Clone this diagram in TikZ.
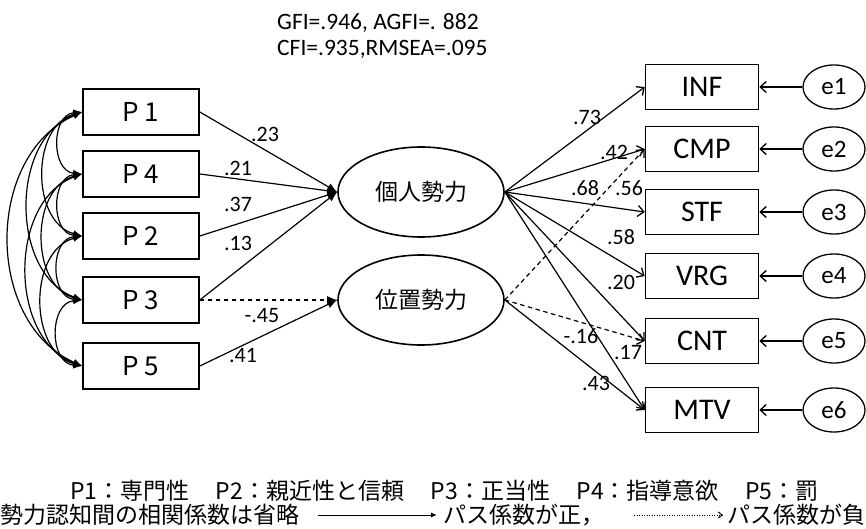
\documentclass[tikz,border=0pt]{standalone}
\usepackage{fontspec}
\setmainfont{Carlito}
\newfontfamily\jpfont{Noto Sans CJK JP}
\usetikzlibrary{arrows.meta,shapes.geometric}

\newcommand{\gapjp}{\hspace{1.15em}}

\begin{document}
\begin{tikzpicture}[x=1pt,y=-1pt,
  obsbox/.style={draw, line width=1.6pt, minimum width=116pt, minimum height=46pt,
    inner sep=0pt, font=\jpfont\fontsize{26}{26}\selectfont},
  indbox/.style={draw, line width=1.6pt, minimum width=113pt, minimum height=45pt,
    inner sep=0pt, font=\fontsize{30}{30}\selectfont},
  latent/.style={draw, ellipse, line width=1.6pt, minimum width=166pt, minimum height=90pt,
    inner sep=0pt, font=\jpfont\fontsize{23}{23}\selectfont},
  errnode/.style={draw, ellipse, line width=1.3pt, minimum width=62pt, minimum height=44pt,
    inner sep=0pt, font=\fontsize{25}{25}\selectfont},
  coef/.style={inner sep=0pt, font=\fontsize{22}{22}\selectfont},
  fitline/.style={font=\fontsize{23.5}{23.5}\selectfont, inner sep=0pt, anchor=base west},
  legend/.style={font=\jpfont\fontsize{23}{23}\selectfont, inner sep=0pt, anchor=base west},
  inpath/.style={line width=1.2pt, -{Latex[length=10pt,width=8pt]}},
  outpath/.style={line width=1.2pt, -{Straight Barb[length=6pt,width=11pt,line width=1.3pt]}},
  negpath/.style={dash pattern=on 4.5pt off 3.5pt},
  corr/.style={line width=1.2pt, {Latex[length=9pt,width=7pt]}-{Latex[length=9pt,width=7pt]}},
  errpath/.style={line width=1.3pt, -{Straight Barb[length=6pt,width=11pt,line width=1.3pt]}},
]
\fill[white] (0,0) rectangle (866,529);
\useasboundingbox (0,0) rectangle (866,529);

% fit indices
\node[fitline] (fitA) at (277,29.5) {GFI=.946, AGFI=. 882};
\node[fitline] (fitB) at (277,55.5) {CFI=.935,RMSEA=.095};

% power perceptions
\node[obsbox] (P1) at (141,112) {P 1};
\node[obsbox] (P4) at (141,174) {P 4};
\node[obsbox] (P2) at (141,236) {P 2};
\node[obsbox] (P3) at (141,300) {P 3};
\node[obsbox] (P5) at (141,366) {P 5};

% latent powers
\node[latent] (pers) at (421,192) {個人勢力};
\node[latent] (posi) at (421,300) {位置勢力};

% outcome indicators
\node[indbox] (INF) at (702,87) {INF};
\node[indbox] (CMP) at (702,149) {CMP};
\node[indbox] (STF) at (702,212) {STF};
\node[indbox] (VRG) at (702,276) {VRG};
\node[indbox] (CNT) at (702,341) {CNT};
\node[indbox] (MTV) at (702,410) {MTV};

% error terms
\node[errnode] (e1) at (834,87) {e1};
\node[errnode] (e2) at (834,149) {e2};
\node[errnode] (e3) at (834,212) {e3};
\node[errnode] (e4) at (834,276) {e4};
\node[errnode] (e5) at (834,341) {e5};
\node[errnode] (e6) at (834,410) {e6};

% correlations among perceptions
\draw[corr] (P1.west) to[bend right=85, looseness=1.3] (P4.west);
\draw[corr] (P4.west) to[bend right=85, looseness=1.3] (P2.west);
\draw[corr] (P2.west) to[bend right=85, looseness=1.3] (P3.west);
\draw[corr] (P3.west) to[bend right=85, looseness=1.3] (P5.west);
\draw[corr] (P1.west) to[bend right=75, looseness=1.1] (P2.west);
\draw[corr] (P4.west) to[bend right=75, looseness=1.1] (P3.west);
\draw[corr] (P2.west) to[bend right=75, looseness=1.1] (P5.west);
\draw[corr] (P1.west) to[bend right=70, looseness=1.05] (P3.west);
\draw[corr] (P4.west) to[bend right=70, looseness=1.05] (P5.west);
\draw[corr] (P1.west) to[bend right=66, looseness=1.08] (P5.west);

% paths into latent powers
\draw[inpath] (P1.east) -- (pers.west);
\draw[inpath] (P4.east) -- (pers.west);
\draw[inpath] (P2.east) -- (pers.west);
\draw[inpath] (P3.east) -- (pers.west);
\draw[inpath, negpath] (P3.east) -- (posi.west);
\draw[inpath] (P5.east) -- (posi.west);

\node[coef] (c1) at (265,134) {.23};
\node[coef] (c2) at (238,168) {.21};
\node[coef] (c3) at (238,204) {.37};
\node[coef] (c4) at (238,243) {.13};
\node[coef] (c5) at (262,316) {-.45};
\node[coef] (c6) at (243,356) {.41};

% paths into indicators
\draw[outpath] (pers.east) -- (INF.west);
\draw[outpath] (pers.east) -- (CMP.west);
\draw[outpath] (pers.east) -- (STF.west);
\draw[outpath] (pers.east) -- (VRG.west);
\draw[outpath] (pers.east) -- (CNT.west);
\draw[outpath] (pers.east) -- (MTV.west);
\draw[outpath, negpath] (posi.east) -- (CMP.west);
\draw[outpath, negpath] (posi.east) -- (CNT.west);
\draw[outpath] (posi.east) -- (MTV.west);

\node[coef] (d1) at (587,117) {.73};
\node[coef] (d2) at (614,152) {.42};
\node[coef] (d3) at (585,188) {.68};
\node[coef] (d4) at (629,188) {.56};
\node[coef] (d5) at (621,237) {.58};
\node[coef] (d6) at (621,282) {.20};
\node[coef] (d7) at (581,336) {-.16};
\node[coef] (d8) at (628,353) {.17};
\node[coef] (d9) at (596,383) {.43};

% error paths
\draw[errpath] (e1) -- (INF);
\draw[errpath] (e2) -- (CMP);
\draw[errpath] (e3) -- (STF);
\draw[errpath] (e4) -- (VRG);
\draw[errpath] (e5) -- (CNT);
\draw[errpath] (e6) -- (MTV);

% legend
\node[legend] (k1) at (70,499) {P1：専門性\gapjp P2：親近性と信頼\gapjp P3：正当性\gapjp P4：指導意欲\gapjp P5：罰};
\node[legend] (n1) at (0,523) {勢力認知間の相関係数は省略};
\coordinate (posA) at (318,515);
\coordinate (posB) at (437,515);
\draw[line width=1pt, -{Latex[length=6pt,width=5pt]}] (posA) -- (posB);
\node[legend] (n2) at (443,523) {パス係数が正，};
\coordinate (negA) at (634,515);
\coordinate (negB) at (723,515);
\draw[line width=1pt, dash pattern=on 1pt off 1.5pt, -{Straight Barb[length=4pt,width=6pt,line width=1pt]}] (negA) -- (negB);
\node[legend] (n3) at (727,523) {パス係数が負};
\end{tikzpicture}
\end{document}
